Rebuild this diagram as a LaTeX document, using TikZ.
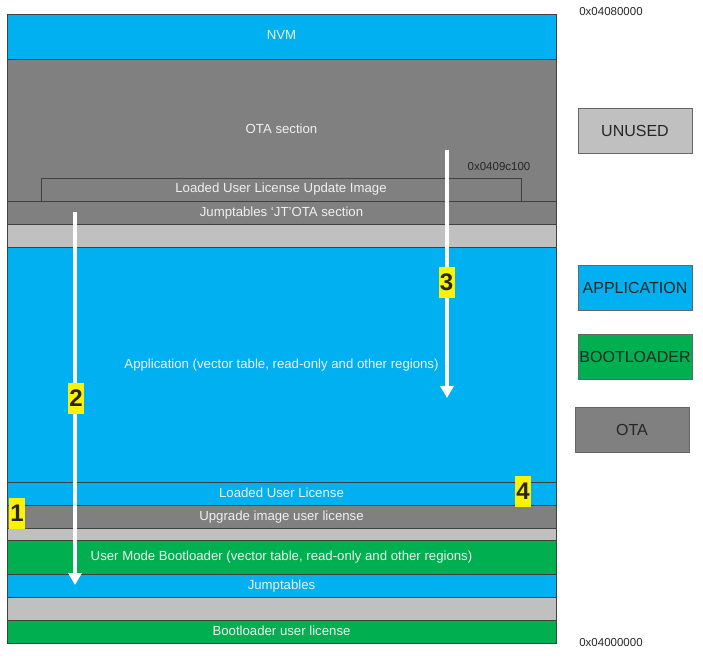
\documentclass[tikz,border=0pt]{standalone}
\usepackage{fontspec}
\setmainfont{Liberation Sans}
\usepackage{tikz}
\usetikzlibrary{arrows.meta,positioning}

\definecolor{appblue}{HTML}{00B0F0}
\definecolor{bootgreen}{HTML}{00B050}
\definecolor{otagray}{HTML}{808080}
\definecolor{freegray}{HTML}{C0C0C0}
\definecolor{addrgray}{HTML}{262626}

\begin{document}
\begin{tikzpicture}[x=1pt,y=-1pt]
\tikzset{
	region/.style = {draw=black!75, line width=0.8pt, minimum width=549pt, inner sep=0, outer sep=0, text height=9.5pt, text depth=2.5pt, text=white!94!black, font=\fontsize{13.2}{15}\selectfont},
	app region/.style = {region, fill=appblue},
	boot region/.style = {region, fill=bootgreen},
	ota region/.style = {region, fill=otagray},
	free region/.style = {region, fill=freegray},
	key box/.style = {draw=black!60, line width=0.8pt, anchor=north west, minimum width=114pt, minimum height=45pt, inner sep=0, outer sep=0, text=addrgray, font=\fontsize{16}{18}\selectfont},
	address/.style = {text=addrgray, inner sep=0, font=\fontsize{11.5}{13}\selectfont},
	step tag/.style = {fill=yellow, inner sep=0, minimum width=16pt, minimum height=31pt, text=addrgray, font=\fontsize{24}{26}\selectfont\bfseries},
	flow/.style = {draw=white, line width=3.5pt, -{Triangle[length=12pt,width=13pt]}},
}

\useasboundingbox (0,0) rectangle (703,660);

% memory map, top to bottom
\node (nvm)[app region, anchor=north west, minimum height=45pt] at (7,14) {NVM};
\node (ota)[ota region, minimum height=142pt, below=0pt of nvm] {OTA section};
\node (jtota)[ota region, minimum height=23pt, below=0pt of ota] {Jumptables `JT'OTA section};
\node (free1)[free region, minimum height=23pt, below=0pt of jtota] {};
\node (app)[app region, minimum height=235pt, below=0pt of free1] {Application (vector table, read-only and other regions)};
\node (lul)[app region, minimum height=23pt, below=0pt of app] {Loaded User License};
\node (uiul)[ota region, minimum height=23pt, below=0pt of lul] {Upgrade image user license};
\node (free2)[free region, minimum height=12pt, below=0pt of uiul] {};
\node (umb)[boot region, minimum height=34pt, below=0pt of free2] {User Mode Bootloader (vector table, read-only and other regions)};
\node (jt)[app region, minimum height=23pt, below=0pt of umb] {Jumptables};
\node (free3)[free region, minimum height=23pt, below=0pt of jt] {};
\node (blul)[boot region, minimum height=23pt, below=0pt of free3] {Bootloader user license};

\node (lulimg)[ota region, minimum width=480pt, minimum height=23pt, anchor=south west] at ([xshift=34pt]ota.south west) {Loaded User License Update Image};

% addresses
\node (addrtop)[address] at (611,12) {0x04080000};
\node (addrimg)[address] at (499,167) {0x0409c100};
\node (addrbot)[address] at (611,643) {0x04000000};

% legend
\node (kfree)[key box, fill=freegray] at (578,108) {UNUSED};
\node (kapp)[key box, fill=appblue] at (578,265) {APPLICATION};
\node (kboot)[key box, fill=bootgreen] at (578,334) {BOOTLOADER};
\node (kota)[key box, fill=otagray] at (575,407) {OTA};

% flows
\coordinate (f2start) at (75,212);
\coordinate (f2end) at (75,585);
\coordinate (f3start) at (447,150);
\coordinate (f3end) at (447,398);
\draw [flow] (f2start) -- (f2end);
\draw [flow] (f3start) -- (f3end);

\node (tag1)[step tag] at (17,513) {1};
\node (tag2)[step tag] at (76,398) {2};
\node (tag3)[step tag] at (446.5,282.5) {3};
\node (tag4)[step tag] at (523,491) {4};

\end{tikzpicture}
\end{document}
